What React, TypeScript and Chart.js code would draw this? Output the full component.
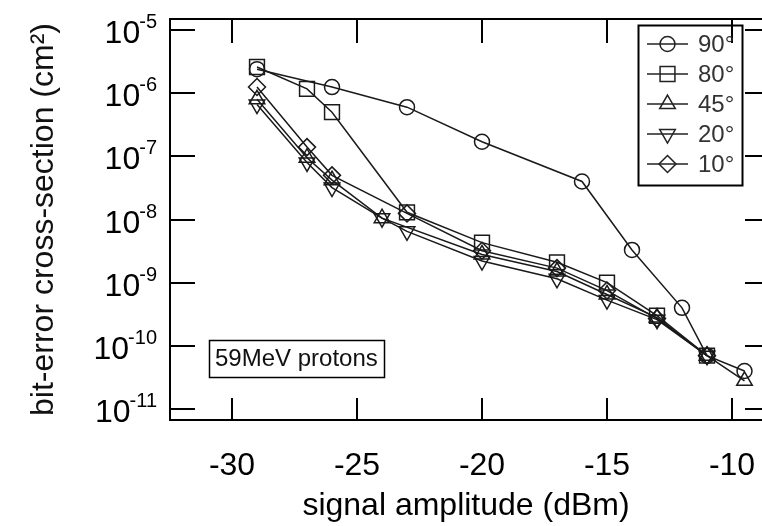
import React, { useEffect, useRef } from 'react';
import { Chart, registerables } from 'chart.js';

Chart.register(...registerables);

const FONT = "'Liberation Sans', Arial, Helvetica, sans-serif";

// Axis ticks
const xTickValues = [-30, -25, -20, -15, -10];
const yTickExponents = [-11, -10, -9, -8, -7, -6, -5];

// Series labels (incidence angle)
const seriesLabels = ['90°', '80°', '45°', '20°', '10°'];

// 90°
const x90 = [-29, -26, -23, -20, -16, -14, -12, -11, -9.5];
const y90 = [2.4e-6, 1.25e-6, 6e-7, 1.7e-7, 4e-8, 3.3e-9, 4e-10, 7e-11, 4e-11];
// 80°
const x80 = [-29, -27, -26, -23, -20, -17, -15, -13, -11];
const y80 = [2.6e-6, 1.17e-6, 5e-7, 1.3e-8, 4.3e-9, 2.1e-9, 1.0e-9, 3e-10, 7e-11];
// 45°
const x45 = [-29, -27, -26, -24, -20, -17, -15, -13, -11, -9.5];
const y45 = [8e-7, 9.5e-8, 4.2e-8, 1.05e-8, 2.8e-9, 1.5e-9, 6.5e-10, 2.8e-10, 7e-11, 2.8e-11];
// 20°
const x20 = [-29, -27, -26, -24, -23, -20, -17, -15, -13, -11];
const y20 = [6.6e-7, 8e-8, 3.2e-8, 1.05e-8, 6.5e-9, 2.2e-9, 1.15e-9, 5.3e-10, 2.6e-10, 7e-11];
// 10°
const x10 = [-29, -27, -26, -23, -20, -17, -15, -13, -11];
const y10 = [1.25e-6, 1.4e-7, 5e-8, 1.25e-8, 3.2e-9, 1.7e-9, 7.5e-10, 2.7e-10, 7e-11];

const seriesX = [x90, x80, x45, x20, x10];
const seriesY = [y90, y80, y45, y20, y10];
const pointStyles = ['circle', 'rect', 'triangle', 'triangle', 'rectRot'];
const pointRotations = [0, 0, 0, 180, 0];
const pointSizes = [7.5, 10.5, 9, 9, 8.5];

const xTitle = 'signal amplitude (dBm)';
const yTitle = 'bit-error cross-section (cm²)';
const noteText = '59MeV protons';

function drawMarker(ctx: CanvasRenderingContext2D, style: string, x: number, y: number, r: number, rotation: number) {
  ctx.beginPath();
  if (style === 'circle') {
    ctx.arc(x, y, r, 0, Math.PI * 2);
  } else if (style === 'rect') {
    const s = r * Math.SQRT1_2;
    ctx.rect(x - s, y - s, 2 * s, 2 * s);
  } else if (style === 'rectRot') {
    ctx.moveTo(x, y - r);
    ctx.lineTo(x + r, y);
    ctx.lineTo(x, y + r);
    ctx.lineTo(x - r, y);
    ctx.closePath();
  } else {
    const rad0 = (rotation * Math.PI) / 180;
    for (let k = 0; k < 3; k++) {
      const a = rad0 + (k * 2 * Math.PI) / 3;
      const px = x + Math.sin(a) * r;
      const py = y - Math.cos(a) * r;
      if (k === 0) ctx.moveTo(px, py);
      else ctx.lineTo(px, py);
    }
    ctx.closePath();
  }
  ctx.stroke();
}

const framePlugin = {
  id: 'frameTicks',
  afterDraw(chart: any) {
    const { ctx, chartArea } = chart;
    const { left, right, top, bottom } = chartArea;
    const xs = chart.scales.x;
    const ys = chart.scales.y;
    ctx.save();
    ctx.strokeStyle = '#000';
    ctx.lineWidth = 2;
    ctx.beginPath();
    ctx.moveTo(right, top);
    ctx.lineTo(left, top);
    ctx.lineTo(left, bottom);
    ctx.lineTo(right, bottom);
    ctx.stroke();
    ctx.beginPath();
    xTickValues.forEach((v) => {
      const px = Math.round(xs.getPixelForValue(v));
      ctx.moveTo(px, bottom);
      ctx.lineTo(px, bottom - 22);
      ctx.moveTo(px, top);
      ctx.lineTo(px, top + 24);
    });
    yTickExponents.forEach((e) => {
      const py = Math.round(ys.getPixelForValue(Math.pow(10, e)));
      ctx.moveTo(left, py);
      ctx.lineTo(left + 25, py);
      ctx.moveTo(right, py);
      ctx.lineTo(right - 17, py);
    });
    ctx.stroke();

    // y tick labels: 10 with raised exponent
    ctx.fillStyle = '#000';
    ctx.textAlign = 'right';
    ctx.textBaseline = 'alphabetic';
    yTickExponents.forEach((e) => {
      const py = ys.getPixelForValue(Math.pow(10, e));
      const expText = String(e);
      ctx.font = `20px ${FONT}`;
      const ew = ctx.measureText(expText).width;
      const xr = left - 13;
      ctx.fillText(expText, xr, py - 2);
      ctx.font = `32px ${FONT}`;
      ctx.fillText('10', xr - ew + 1, py + 13);
    });

    // annotation box
    ctx.textAlign = 'left';
    ctx.lineWidth = 1.5;
    ctx.strokeRect(209.5, 340.5, 175, 37);
    ctx.fillStyle = '#111';
    ctx.font = `24px ${FONT}`;
    ctx.textBaseline = 'middle';
    ctx.fillText(noteText, 215, 359);

    // legend
    ctx.lineWidth = 2;
    ctx.strokeStyle = '#000';
    ctx.strokeRect(638.5, 25.5, 104, 160);
    chart.data.datasets.forEach((ds: any, i: number) => {
      const cy = 44 + i * 30;
      ctx.strokeStyle = '#222';
      ctx.lineWidth = 1.5;
      ctx.beginPath();
      ctx.moveTo(647, cy);
      ctx.lineTo(688, cy);
      ctx.stroke();
      drawMarker(ctx, pointStyles[i], 667.5, cy, pointSizes[i], pointRotations[i]);
      ctx.fillStyle = '#333';
      ctx.font = `24px ${FONT}`;
      ctx.textBaseline = 'middle';
      ctx.fillText(ds.label, 698, cy + 1);
    });
    ctx.restore();
  },
};

export default function App() {
  const canvasRef = useRef<HTMLCanvasElement | null>(null);

  useEffect(() => {
    const canvas = canvasRef.current;
    if (!canvas) return;
    const datasets = seriesLabels.map((label, i) => ({
      label,
      data: seriesX[i].map((x, j) => ({ x, y: seriesY[i][j] })),
      borderColor: '#1a1a1a',
      borderWidth: 1.5,
      pointStyle: pointStyles[i] as any,
      pointRotation: pointRotations[i],
      pointRadius: pointSizes[i],
      pointBorderWidth: 1.5,
      pointBorderColor: '#1a1a1a',
      pointBackgroundColor: 'rgba(0,0,0,0)',
      tension: 0,
      fill: false,
    }));
    const chart = new Chart(canvas, {
      type: 'line',
      data: { datasets },
      options: {
        animation: false,
        responsive: false,
        maintainAspectRatio: false,
        layout: { autoPadding: false, padding: { top: 19, right: 0, left: 0, bottom: 0 } },
        plugins: { legend: { display: false }, tooltip: { enabled: false } },
        scales: {
          x: {
            type: 'linear',
            min: -32.48,
            max: -8.8,
            grid: { display: false, drawTicks: false },
            border: { display: false },
            afterBuildTicks: (s: any) => {
              s.ticks = xTickValues.map((v) => ({ value: v }));
            },
            afterFit: (s: any) => {
              s.height = 106;
              s.paddingLeft = 0;
              s.paddingRight = 0;
            },
            ticks: {
              autoSkip: false,
              maxRotation: 0,
              padding: 27,
              color: '#000',
              font: { family: FONT, size: 32 },
              callback: (v: any) => String(v),
            },
            title: {
              display: true,
              text: xTitle,
              color: '#000',
              font: { family: FONT, size: 32 },
              padding: { top: 0, bottom: 1 },
            },
          },
          y: {
            type: 'logarithmic',
            min: 6.7e-12,
            max: 1.493e-5,
            grid: { display: false, drawTicks: false },
            border: { display: false },
            afterBuildTicks: (s: any) => {
              s.ticks = yTickExponents.map((e) => ({ value: Math.pow(10, e) }));
            },
            afterFit: (s: any) => {
              s.width = 170;
              s.paddingTop = 0;
              s.paddingBottom = 0;
            },
            ticks: {
              display: false,
            },
            title: {
              display: true,
              text: yTitle,
              color: '#111',
              font: { family: FONT, size: 32 },
              padding: { top: 25, bottom: 0 },
            },
          },
        },
      },
      plugins: [framePlugin],
    });
    return () => chart.destroy();
  }, []);

  return (
    <div style={{ position: 'fixed', left: 0, top: 0, width: 762, height: 526, background: '#fff', overflow: 'hidden' }}>
      <canvas ref={canvasRef} width={762} height={526} style={{ display: 'block' }} />
    </div>
  );
}
